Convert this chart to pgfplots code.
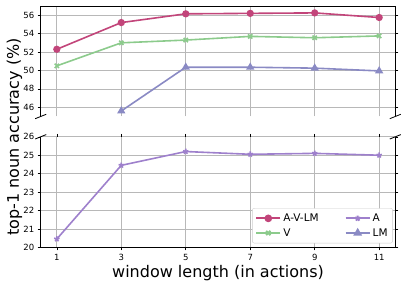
\documentclass[border=0pt]{standalone}
\usepackage{pgfplots}
\pgfplotsset{compat=1.18}
\usepackage{fontspec}
\setmainfont{DejaVu Sans}
\definecolor{cAVLM}{HTML}{C2457A}
\definecolor{cV}{HTML}{8CCB8C}
\definecolor{cLM}{HTML}{8A8AC4}
\definecolor{cA}{HTML}{9E80CC}
\pgfplotsset{
  common/.style={
    scale only axis, width=354.6pt, height=110.5pt,
    xmin=0.5, xmax=11.5, xtick={1,3,5,7,9,11},
    grid=major, grid style={color=black!28, line width=0.7pt},
    axis line style={draw=none},
    tick align=outside, major tick length=3pt,
    tick style={black, line width=0.6pt},
    /pgf/number format/assume math mode=true,
    tick label style={font=\fontsize{8.5}{10}\selectfont},
    clip=false,
    every axis plot/.append style={line width=1.6pt},
  }
}
\begin{document}
\begin{tikzpicture}
\begin{axis}[common, name=bot, at={(0pt,0pt)}, anchor=south west,
  ymin=20, ymax=26, ytick={20,21,...,26},
  xlabel={window length (in actions)},
  xlabel style={font=\fontsize{16}{18}\selectfont, yshift=2pt},
  legend columns=2, transpose legend,
  legend style={at={(1,0)}, anchor=south east, xshift=-2.5pt, yshift=4pt,
    draw=black!20, rounded corners=2pt, fill=white, text opacity=1,
    font=\fontsize{10.5}{12}\selectfont, inner xsep=3pt, inner ysep=3.5pt,
    row sep=1.5pt,
    /tikz/every even column/.append style={column sep=24pt}},
  legend cell align=left,
  legend image code/.code={\draw[#1, line width=2pt] (0pt,0pt) -- (12pt,0pt) (24pt,0pt) -- (12pt,0pt) plot coordinates {(12pt,0pt)};},
]
\addlegendimage{color=cAVLM, mark=*, mark size=2.8pt}
\addlegendentry{A-V-LM}
\addlegendimage{color=cV, mark=x, mark size=3pt}
\addlegendentry{V}
\addplot[color=cA, mark=star, mark size=2.8pt] coordinates {
  (1,20.45) (3,24.45) (5,25.2) (7,25.05) (9,25.1) (11,25.0)};
\addlegendentry{A}
\addlegendimage{color=cLM, mark=triangle*, mark size=3.2pt}
\addlegendentry{LM}
\draw[line width=0.8pt] (rel axis cs:0,1) -- (rel axis cs:0,0) -- (rel axis cs:1,0) -- (rel axis cs:1,1);
\draw[line width=0.8pt] ([xshift=-5.5pt,yshift=-2.2pt]rel axis cs:0,1) -- ([xshift=5.5pt,yshift=2.2pt]rel axis cs:0,1);
\draw[line width=0.8pt] ([xshift=-5.5pt,yshift=-2.2pt]rel axis cs:1,1) -- ([xshift=5.5pt,yshift=2.2pt]rel axis cs:1,1);
\end{axis}
\begin{axis}[common, name=top, at={(0pt,130.8pt)}, anchor=south west,
  ymin=45, ymax=57, ytick={46,48,...,56},
  xticklabels={}, x tick style={draw=none},
]
\addplot[color=cAVLM, mark=*, mark size=2.8pt] coordinates {
  (1,52.3) (3,55.2) (5,56.15) (7,56.2) (9,56.25) (11,55.75)};
\addplot[color=cV, mark=x, mark size=3pt] coordinates {
  (1,50.5) (3,53.0) (5,53.3) (7,53.7) (9,53.55) (11,53.75)};
\addplot[color=cLM, mark=triangle*, mark size=3.2pt] coordinates {
  (3,45.6) (5,50.35) (7,50.35) (9,50.25) (11,49.95)};
\draw[line width=0.8pt] (rel axis cs:0,0) -- (rel axis cs:0,1) -- (rel axis cs:1,1) -- (rel axis cs:1,0);
\draw[line width=0.8pt] ([xshift=-5.5pt,yshift=-2.2pt]rel axis cs:0,0) -- ([xshift=5.5pt,yshift=2.2pt]rel axis cs:0,0);
\draw[line width=0.8pt] ([xshift=-5.5pt,yshift=-2.2pt]rel axis cs:1,0) -- ([xshift=5.5pt,yshift=2.2pt]rel axis cs:1,0);
\end{axis}
\node[rotate=90, font=\fontsize{16}{18}\selectfont] at (-26.2pt,110.3pt) {top-1 noun accuracy (\%)};
\pgfresetboundingbox
\path[use as bounding box] (-40.7pt,-40.7pt) rectangle (366.3pt,247.3pt);
\end{tikzpicture}
\end{document}
